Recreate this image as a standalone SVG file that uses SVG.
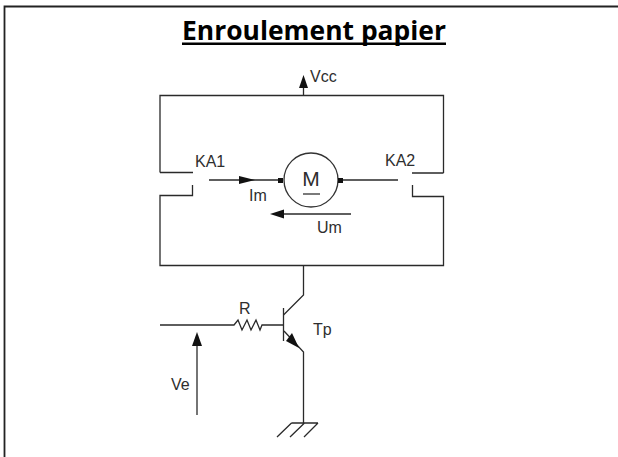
<svg xmlns="http://www.w3.org/2000/svg" width="618" height="457" viewBox="0 0 618 457">
<style>
.w{fill:none;stroke:#2a2a2a;stroke-width:1.3}
.t{font-family:"Liberation Sans",Arial,sans-serif;font-size:16px;fill:#2e2e2e}
.h{fill:#111;stroke:none}
</style>
<rect width="618" height="457" fill="#fff"/>
<path id="frame" d="M4.500 457V6.500H618" fill="none" stroke="#222" stroke-width="1.800"/>
<g id="title"><text x="314" y="40" text-anchor="middle" font-family="Open Sans,Noto Sans,sans-serif" font-weight="700" font-size="27" fill="#000" textLength="264" lengthAdjust="spacingAndGlyphs">Enroulement papier</text><rect x="182" y="42.500" width="264" height="2.500" fill="#000"/></g>
<g id="connectors">
<path class="w" d="M303.500 95.500V84M160 172.500V95.500H443.500V173"/>
<path class="w" d="M160 172.500H193M192.500 185V195.500H160V265.500H443.500V196.500H412.500V185M412 173H443.500"/>
<path class="w" d="M209 180H279M341 180H398"/>
<path class="w" d="M280 214H351"/>
<path class="w" d="M303.500 265.500V295L283.500 315M284 331L303.500 352V423"/>
<path class="w" d="M160 325H234L238 320L242 330L247 320L251 330L256 320L260 330L262 325H283"/>
<path class="w" d="M283.500 308V341"/>
<path class="w" d="M197 415V345"/>
<path class="w" d="M291.500 423H318M291.500 423L277 437M304.500 423L290 437M318 423L304 437"/>
</g>
<g id="arrows">
<path class="h" d="M303.500 75L308 88H299Z"/>
<path class="h" d="M255 180L239 176V184Z"/>
<path class="h" d="M270 214L284 209.500V218.500Z"/>
<path class="h" d="M197 332L202 346H192Z"/>
<path class="h" d="M299 348L286 341L292 333Z"/>
</g>
<g id="motor">
<circle cx="311" cy="180" r="27" fill="#fff" stroke="#333" stroke-width="1.300"/>
<rect x="278" y="178" width="5" height="5" fill="#111"/><rect x="338" y="178" width="5" height="5" fill="#111"/>
<text x="311" y="185.500" text-anchor="middle" font-family="Liberation Sans,Arial,sans-serif" font-size="21" fill="#2e2e2e">M</text>
<path d="M303 194H320" stroke="#222" stroke-width="1.200"/>
</g>
<g id="labels">
<text class="t" x="310" y="82">Vcc</text>
<text class="t" x="195" y="167">KA1</text>
<text class="t" x="385" y="166">KA2</text>
<text class="t" x="249" y="201">Im</text>
<text class="t" x="317" y="233">Um</text>
<text class="t" x="239" y="314">R</text>
<text class="t" x="313" y="335">Tp</text>
<text class="t" x="171" y="390">Ve</text>
</g>
</svg>
